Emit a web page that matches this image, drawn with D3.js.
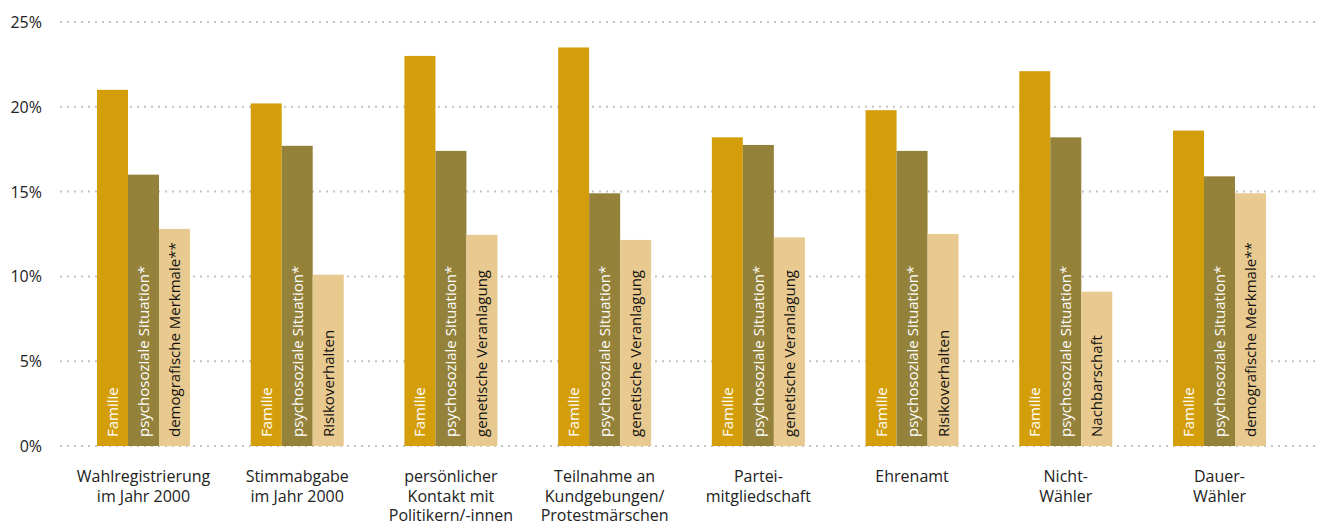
<!DOCTYPE html>
<html>
<head>
<meta charset="utf-8">
<script src="https://cdn.jsdelivr.net/npm/d3@7"></script>
<style>
  body { margin: 0; background: #fff; }
  text { font-family: "Open Sans", "Noto Sans", sans-serif; }
</style>
</head>
<body>
<div class="chart"></div>
<script>
// groups on the x axis (line breaks as in the original)
const categories = [
    ["Wahlregistrierung", "im Jahr 2000"],
    ["Stimmabgabe", "im Jahr 2000"],
    ["persönlicher", "Kontakt mit", "Politikern/-innen"],
    ["Teilnahme an", "Kundgebungen/", "Protestmärschen"],
    ["Partei-", "mitgliedschaft"],
    ["Ehrenamt"],
    ["Nicht-", "Wähler"],
    ["Dauer-", "Wähler"]
];
const familie = [21.0, 20.2, 23.0, 23.5, 18.2, 19.8, 22.1, 18.6];
const psycho = [16.0, 17.7, 17.4, 14.9, 17.75, 17.4, 18.2, 15.9];
const third = [12.8, 10.1, 12.45, 12.15, 12.3, 12.5, 9.1, 14.9];
const thirdLabels = ["demografische Merkmale**", "Risikoverhalten", "genetische Veranlagung",
    "genetische Veranlagung", "genetische Veranlagung", "Risikoverhalten", "Nachbarschaft",
    "demografische Merkmale**"];
const seriesNames = ["Familie", "psychosoziale Situation*", "dritter Faktor"];
const yTicks = [0, 5, 10, 15, 20, 25];

const colors = ["#d49e0b", "#95823a", "#e8c98f"];
const textColors = ["#ffffff", "#ffffff", "#111111"];

const width = 1317, height = 525;
let svg = d3.select('.chart').append('svg').attr('width', width).attr('height', height);

let y = d3.scaleLinear().domain([0, 25]).range([446, 22]);
let x0 = d3.scalePoint().domain(d3.range(categories.length)).range([143.5, 1219.5]);
let x1 = d3.scaleBand().domain(d3.range(3)).range([-46.5, 46.5]);

// gridlines
svg.append('g').selectAll('line').data(yTicks).enter().append('line')
    .attr('x1', 60).attr('x2', width)
    .attr('y1', d => y(d)).attr('y2', d => y(d))
    .attr('stroke', '#c4c4c4').attr('stroke-width', 2)
    .attr('stroke-dasharray', '2,5');

// y axis labels
svg.append('g').selectAll('text').data(yTicks).enter().append('text')
    .attr('x', 42).attr('y', d => y(d) + 6)
    .attr('text-anchor', 'end')
    .style('font-size', '16px').style('fill', '#222')
    .text(d => d + '%');

let rows = categories.map((c, i) => ({
    i: i,
    values: [familie[i], psycho[i], third[i]],
    labels: [seriesNames[0], seriesNames[1], thirdLabels[i]]
}));

let groups = svg.append('g').selectAll('g').data(rows).enter().append('g')
    .attr('transform', d => 'translate(' + x0(d.i) + ',0)');

let bars = groups.selectAll('g.bar').data(d => d.values.map((v, k) => ({k: k, v: v, label: d.labels[k]})))
    .enter().append('g').attr('class', 'bar');

bars.append('rect')
    .attr('x', d => x1(d.k))
    .attr('width', x1.bandwidth())
    .attr('y', d => y(d.v))
    .attr('height', d => y(0) - y(d.v))
    .style('fill', d => colors[d.k]);

bars.append('text')
    .attr('transform', d => 'translate(' + (x1(d.k) + x1.bandwidth() / 2 + 5.5) + ',' + (y(0) - 9) + ') rotate(-90)')
    .style('font-size', '15px')
    .style('fill', d => textColors[d.k])
    .text(d => d.label);

// category labels
let catLabels = svg.append('g').selectAll('text').data(rows).enter().append('text')
    .attr('x', d => x0(d.i)).attr('y', 482)
    .attr('text-anchor', 'middle')
    .style('font-size', '16px').style('fill', '#222');

catLabels.selectAll('tspan').data(d => categories[d.i].map(t => ({t: t, x: x0(d.i)})))
    .enter().append('tspan')
    .attr('x', d => d.x)
    .attr('dy', (d, i) => i == 0 ? 0 : 19.5)
    .text(d => d.t);
</script>
</body>
</html>
